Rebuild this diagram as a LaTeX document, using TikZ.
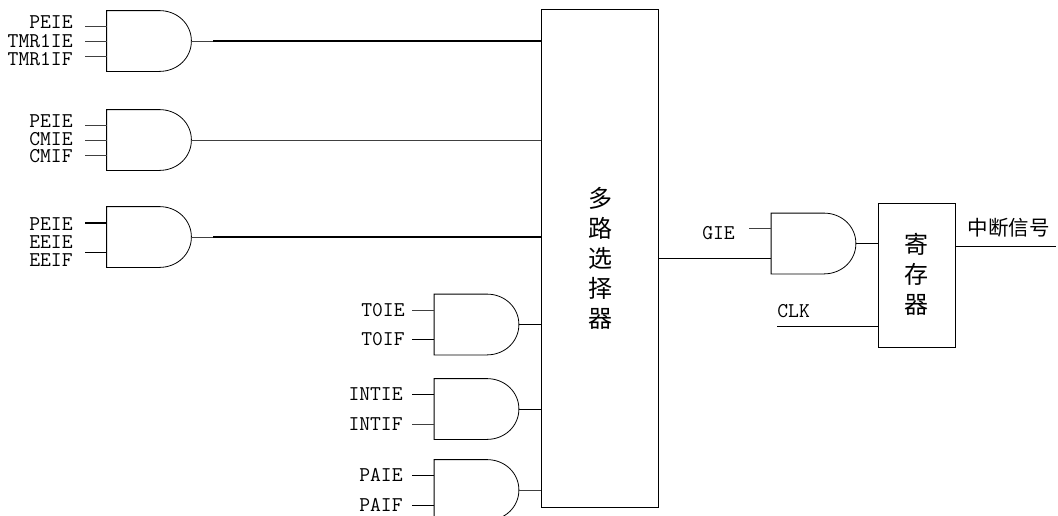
\documentclass[tikz,border=0pt]{standalone}
\usepackage{fontspec}
\newfontfamily\cjk{Noto Sans CJK SC}[Scale=1]
\usepackage{tikz}
\usetikzlibrary{calc,positioning}
\tikzset{
	gate/.style={minimum width=84pt, minimum height=60pt, inner sep=0pt, append after command={\pgfextra{
		\draw ($(\tikzlastnode.north east)+(-32,0)$) -- (\tikzlastnode.north west) -- (\tikzlastnode.south west) -- ($(\tikzlastnode.south east)+(-32,0)$)
			.. controls +(18,0) and +(0,17) .. (\tikzlastnode.east)
			.. controls +(0,-17) and +(18,0) .. ($(\tikzlastnode.north east)+(-32,0)$);
	}}},
	sig/.style={inner sep=0pt, font=\fontsize{21}{21}\selectfont\ttfamily},
	block/.style={draw, minimum width=117pt, inner sep=0pt},
	bus/.style={line width=1.4pt},
	wire/.style={line width=0.8pt, black!75},
}
\begin{document}
\begin{tikzpicture}[x=1pt,y=-1pt,line width=0.8pt]
		\clip (0,0) rectangle (1058,515);
		% Center
		\node[block, minimum height=498pt] (Mux) at (599.5,258) {};
		\node[inner sep=0pt, font=\cjk\fontsize{24}{30}\selectfont, align=center] (MuxText) at (600,258) {多\\路\\选\\择\\器};
		\node[block, minimum width=77pt, minimum height=144pt] (Reg) at (916.5,275.5) {};
		\node[inner sep=0pt, font=\cjk\fontsize{24}{30}\selectfont, align=center] (RegText) at (916.5,274) {寄\\存\\器};
		% Upper gates
		\node[gate] (GateA) at (149,41) {};
		\node[gate] (GateB) at (149,140) {};
		\node[gate] (GateC) at (149,237) {};
		% Lower gates
		\node[gate] (GateD) at (476.5,324.5) {};
		\node[gate] (GateE) at (476.5,409) {};
		\node[gate] (GateF) at (476.5,490) {};
		% Last gate
		\node[gate] (GateG) at (813.5,243.5) {};
		% Stub ends
		\coordinate (A1) at (85,26);
		\coordinate (A2) at (85,41);
		\coordinate (A3) at (85,56);
		\coordinate (B1) at (85,125);
		\coordinate (B2) at (85,140);
		\coordinate (B3) at (85,155);
		\coordinate (C1) at (85,223);
		\coordinate (C3) at (85,252);
		\coordinate (D1) at (412,310);
		\coordinate (D2) at (412,339);
		\coordinate (E1) at (412,394);
		\coordinate (E2) at (412,424);
		\coordinate (F1) at (412,475);
		\coordinate (F2) at (412,505);
		\coordinate (G1) at (749,228);
		\coordinate (ClkEnd) at (777,326);
		\coordinate (IrqEnd) at (1056,246);
		% Labels
		\node[sig, anchor=east] (PeieA) at (73,22) {PEIE};
		\node[sig, anchor=east] (TmrIe) at (73,41) {TMR1IE};
		\node[sig, anchor=east] (TmrIf) at (73,59) {TMR1IF};
		\node[sig, anchor=east] (PeieB) at (73,121) {PEIE};
		\node[sig, anchor=east] (CmIe) at (73,139) {CMIE};
		\node[sig, anchor=east] (CmIf) at (73,156) {CMIF};
		\node[sig, anchor=east] (PeieC) at (73,224) {PEIE};
		\node[sig, anchor=east] (EeIe) at (73,242) {EEIE};
		\node[sig, anchor=east] (EeIf) at (73,260) {EEIF};
		\node[sig, left=7pt of D1] (ToIe) {T0IE};
		\node[sig, left=7pt of D2] (ToIf) {T0IF};
		\node[sig, left=9pt of E1] (IntIe) {INTIE};
		\node[sig, left=9pt of E2] (IntIf) {INTIF};
		\node[sig, left=9pt of F1] (PaIe) {PAIE};
		\node[sig, left=9pt of F2] (PaIf) {PAIF};
		\node[sig] (Gie) at (718.5,233) {GIE};
		\node[sig, anchor=west] (Clk) at (777,311) {CLK};
		\node[inner sep=0pt, font=\cjk\fontsize{20.5}{20.5}\selectfont] (Irq) at (1008.5,228) {中断信号};
		% Inputs
		\draw[wire] (A1) -- (A1 -| GateA.west);
		\draw[wire] (A2) -- (A2 -| GateA.west);
		\draw[wire] (A3) -- (A3 -| GateA.west);
		\draw[wire] (B1) -- (B1 -| GateB.west);
		\draw[wire] (B2) -- (B2 -| GateB.west);
		\draw[wire] (B3) -- (B3 -| GateB.west);
		\draw[bus] (C1) -- (C1 -| GateC.west);
		\draw (C3) -- (C3 -| GateC.west);
		\draw[wire] (D1) -- (D1 -| GateD.west);
		\draw (D2) -- (D2 -| GateD.west);
		\draw (E1) -- (E1 -| GateE.west);
		\draw[wire] (E2) -- (E2 -| GateE.west);
		\draw (F1) -- (F1 -| GateF.west);
		\draw (F2) -- (F2 -| GateF.west);
		\draw[wire] (G1) -- (G1 -| GateG.west);
		% Outputs to the selector
		\draw[wire] (GateA.east) -- (Mux.west |- GateA.east);
		\draw[bus] ($(GateA.east)+(22,0)$) -- (Mux.west |- GateA.east);
		\draw[wire] (GateB.east) -- (Mux.west |- GateB.east);
		\draw[wire] (GateC.east) -- (Mux.west |- GateC.east);
		\draw[bus] ($(GateC.east)+(22,0)$) -- (Mux.west |- GateC.east);
		\draw (GateD.east) -- (Mux.west |- GateD.east);
		\draw (GateE.east) -- (Mux.west |- GateE.east);
		\draw[wire] (GateF.east) -- (Mux.west |- GateF.east);
		% Right side
		\draw (Mux.east |- 0,258) -- (GateG.west |- 0,258);
		\draw (GateG.east) -- (Reg.west |- GateG.east);
		\draw (ClkEnd) -- (Reg.west |- ClkEnd);
		\draw (Reg.east |- IrqEnd) -- (IrqEnd);
	\end{tikzpicture}
\end{document}
